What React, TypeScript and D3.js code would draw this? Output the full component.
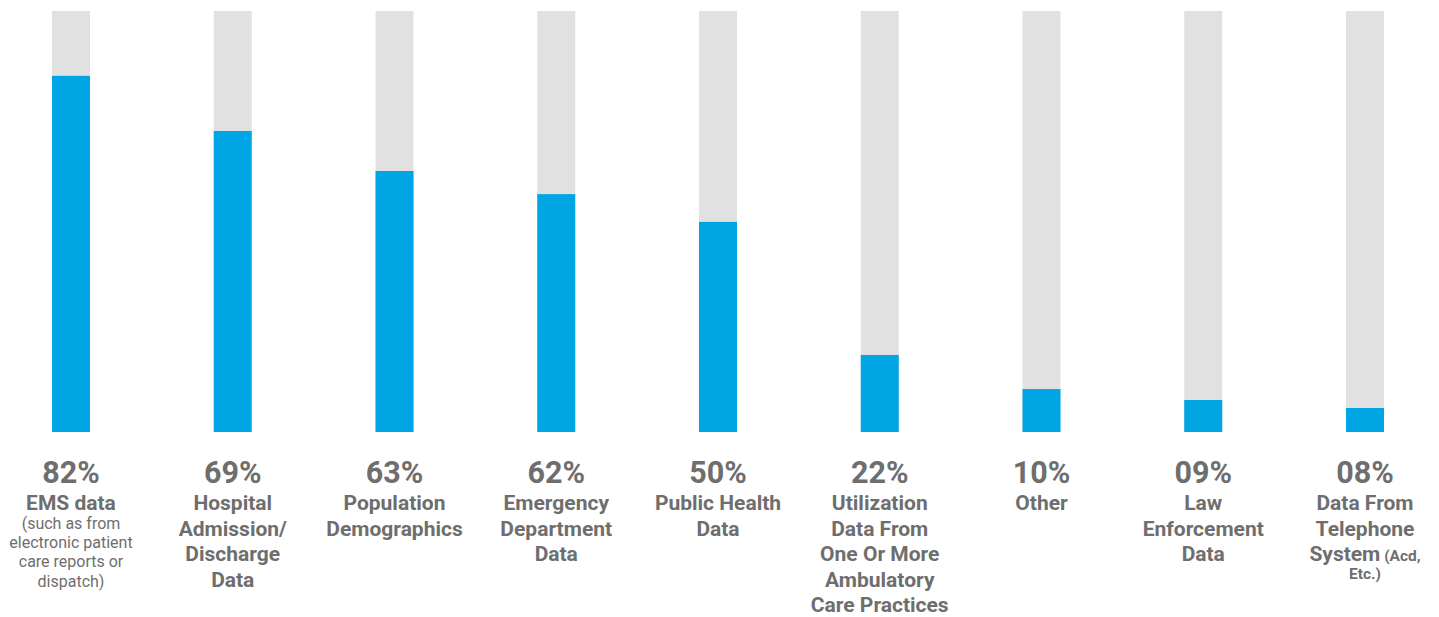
import React from "react";
import * as d3 from "d3";

const categories = [
  "EMS data",
  "Hospital Admission/Discharge Data",
  "Population Demographics",
  "Emergency Department Data",
  "Public Health Data",
  "Utilization Data From One Or More Ambulatory Care Practices",
  "Other",
  "Law Enforcement Data",
  "Data From Telephone System",
];

// bar heights (percent of the full grey track)
const barValues = [84.6, 71.5, 62.0, 56.5, 49.9, 18.3, 10.2, 7.6, 5.7];

const percentLabels = ["82%", "69%", "63%", "62%", "50%", "22%", "10%", "09%", "08%"];

const categoryLines = [
  ["EMS data"],
  ["Hospital", "Admission/", "Discharge", "Data"],
  ["Population", "Demographics"],
  ["Emergency", "Department", "Data"],
  ["Public Health", "Data"],
  ["Utilization", "Data From", "One Or More", "Ambulatory", "Care Practices"],
  ["Other"],
  ["Law", "Enforcement", "Data"],
  ["Data From", "Telephone", "System"],
];

const inlineNotes = ["", "", "", "", "", "", "", "", "(Acd,"];

const noteLines = [
  ["(such as from", "electronic patient", "care reports or", "dispatch)"],
  [],
  [],
  [],
  [],
  [],
  [],
  [],
  ["Etc.)"],
];

const noteBold = [false, false, false, false, false, false, false, false, true];

const W = 1439;
const H = 617;
const BLUE = "#00a6e3";
const TRACK = "#e1e1e1";
const TEXT = "#6e6e6e";
const FONT = "Roboto, 'Noto Sans', sans-serif";

export default function App() {
  const x = d3
    .scalePoint<string>()
    .domain(categories)
    .range([71, 1365]);
  const y = d3.scaleLinear().domain([0, 100]).range([432, 11]);
  const barW = 38;

  const pctBaseline = 483;
  const firstLine = 510;
  const lineH = 25.6;
  const noteLH = 19.2;

  return (
    <svg
      width={W}
      height={H}
      style={{ position: "absolute", left: 0, top: 0 }}
      fontFamily={FONT}
    >
      <rect x={0} y={0} width={W} height={H} fill="#ffffff" />
      {categories.map((c, i) => {
        const cx = x(c)!;
        const lines = categoryLines[i];
        const notes = noteLines[i];
        const inline = inlineNotes[i];
        const lastLineY = firstLine + (lines.length - 1) * lineH;
        const noteStart = inline ? lastLineY + 18 : lastLineY + 19;
        return (
          <g key={c}>
            <rect x={cx - barW / 2} y={y(100)} width={barW} height={y(0) - y(100)} fill={TRACK} />
            <rect
              x={cx - barW / 2}
              y={y(barValues[i])}
              width={barW}
              height={y(0) - y(barValues[i])}
              fill={BLUE}
            />
            <text
              x={cx}
              y={pctBaseline}
              textAnchor="middle"
              fontSize={30.5}
              fontWeight={700}
              fill={TEXT}
            >
              {percentLabels[i]}
            </text>
            {lines.map((ln, j) => (
              <text
                key={j}
                x={cx}
                y={firstLine + j * lineH}
                textAnchor="middle"
                fontSize={21}
                fontWeight={700}
                fill={TEXT}
              >
                {ln}
                {j === lines.length - 1 && inline ? (
                  <tspan fontSize={15.5}>{" " + inline}</tspan>
                ) : null}
              </text>
            ))}
            {notes.map((ln, j) => (
              <text
                key={"n" + j}
                x={cx}
                y={noteStart + j * noteLH}
                textAnchor="middle"
                fontSize={noteBold[i] ? 15.5 : 16}
                fontWeight={noteBold[i] ? 700 : 400}
                fill={TEXT}
              >
                {ln}
              </text>
            ))}
          </g>
        );
      })}
    </svg>
  );
}
